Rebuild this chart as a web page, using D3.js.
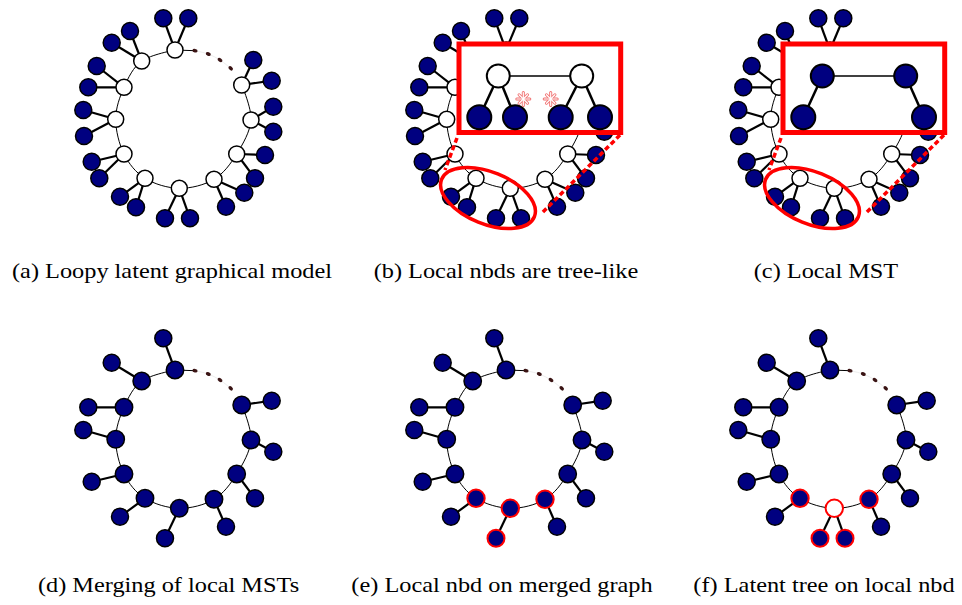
<!DOCTYPE html>
<html><head><meta charset="utf-8">
<script src="https://cdn.jsdelivr.net/npm/d3@7"></script>
<style>body{margin:0;background:#fff} .cap{font-family:"Liberation Serif","DejaVu Serif","Noto Serif",serif;}</style>
</head><body>
<svg id="chart" width="962" height="605"></svg>
<script>
// ---- data (local coordinates relative to each ring's centre) ----
const hiddenIds = ["h1","h2","h3","h4","h5","h6","h7","h8","h9","h10","h11"];
const hiddenX = [-8,-41.3,-59,-67.3,-59,-38,-3.7,31,53.7,68,58.7];
const hiddenY = [-69,-58,-31.7,0.3,35,59.3,69.3,60.3,35,1,-34];
const leafAX = [-19.7,-71.3,-94.7,-99.7,-91.3,-63,-18,43,72,90.3,88.7];
const leafAY = [-100.7,-76.3,-31.7,-9,42.7,77.7,99.3,87.7,59.3,12.7,-38.3];
const leafBX = [5.3,-53,-86.3,-99,-83.7,-47,7,61.3,82,90.3,70.3];
const leafBY = [-100.7,-88,-53,17,59.3,88.3,99.3,73.7,36,-12.3,-59];
const ellipsisX = [12,25.3,37,47.7];
const ellipsisY = [-68.3,-65,-59,-50.7];
// zoomed local tree (panel b) and local MST (panel c)
const zoomHidX = [-15.7,67.7], zoomHidY = [-43,-43];
const zoomObsX = [-34.7,1,46.7,86], zoomObsY = [-1.7,-1.7,-1.7,-1.7];
const zoomObsParent = [0,0,1,1];
const mstKeep = [0,3];
const asteriskX = [9.3,36.7], asteriskY = [-20,-20];
const captions = ["(a) Loopy latent graphical model","(b) Local nbds are tree-like","(c) Local MST",
                  "(d) Merging of local MSTs","(e) Local nbd on merged graph","(f) Latent tree on local nbd"];
const captionX = [172,506,826,168.5,502,824];
const captionY = [278,278,278,592,592,592];

const panels = [
  {cx:183, cy:119, mode:"latent"},
  {cx:514, cy:119, mode:"latent", box:"tree"},
  {cx:838, cy:119, mode:"latent", box:"mst"},
  {cx:183, cy:439, mode:"mst"},
  {cx:514, cy:439, mode:"mst", nbd:"merged"},
  {cx:838, cy:439, mode:"mst", nbd:"latent"}
];

const BLUE = "#000080", RED = "#ff0000";
const svg = d3.select("#chart");

panels.forEach((p, pi) => {
  const x = d3.scaleLinear().domain([-100,100]).range([p.cx-100, p.cx+100]);
  const y = d3.scaleLinear().domain([-100,100]).range([p.cy-100, p.cy+100]);
  const g = svg.append("g");
  const ring = hiddenIds.map((id,i)=>({id, x:x(hiddenX[i]), y:y(hiddenY[i])}));
  // ring edges
  g.append("path")
    .attr("d", d3.line().x(d=>d.x).y(d=>d.y).curve(d3.curveCardinal.tension(0))(ring))
    .attr("fill","none").attr("stroke","#000").attr("stroke-width",1);
  // ellipsis
  g.append("line").attr("x1",ring[0].x).attr("y1",ring[0].y)
    .attr("x2",x(ellipsisX[0])).attr("y2",y(ellipsisY[0]))
    .attr("stroke","#000").attr("stroke-width",1);
  g.append("path")
    .attr("d", d3.line().x((d,i)=>x(ellipsisX[i])).y((d,i)=>y(ellipsisY[i])).curve(d3.curveCardinal)(ellipsisX))
    .attr("fill","none").attr("stroke","#eee").attr("stroke-width",1);
  ellipsisX.forEach((v,i)=>{
    const cx = x(v), cy = y(ellipsisY[i]);
    const ang = Math.atan2(y(ellipsisY[i])-p.cy, x(v)-p.cx)*180/Math.PI + 90;
    g.append("ellipse").attr("cx",cx).attr("cy",cy).attr("rx",2.6).attr("ry",1.8)
      .attr("transform",`rotate(${ang},${cx},${cy})`).attr("fill","#3a1414");
  });

  const latent = p.mode === "latent";
  const nbdSet = new Set(["h6","h7","h8"]);
  // leaf edges
  ring.forEach((h,i)=>{
    const leaves = [[leafAX[i],leafAY[i]]];
    const latentHere = latent || (p.nbd==="latent" && h.id==="h7");
    if (latentHere) leaves.push([leafBX[i],leafBY[i]]);
    leaves.forEach(l=>{
      g.append("line").attr("x1",h.x).attr("y1",h.y).attr("x2",x(l[0])).attr("y2",y(l[1]))
        .attr("stroke","#000").attr("stroke-width",2.2);
    });
  });
  // leaf nodes
  ring.forEach((h,i)=>{
    const latentHere = latent || (p.nbd==="latent" && h.id==="h7");
    const leaves = [[leafAX[i],leafAY[i]]];
    if (latentHere) leaves.push([leafBX[i],leafBY[i]]);
    leaves.forEach(l=>{
      const red = h.id==="h7" && (p.nbd==="merged" || p.nbd==="latent");
      g.append("circle").attr("cx",x(l[0])).attr("cy",y(l[1])).attr("r",8.5)
        .attr("fill",BLUE).attr("stroke",red?RED:"#000").attr("stroke-width",red?2:1.5);
    });
  });
  // ring nodes
  ring.forEach(h=>{
    let fill, stroke="#000", sw=1.5, r;
    if (latent) { fill="#fff"; r=8; }
    else {
      r = 8.7; fill = BLUE;
      if (p.nbd && nbdSet.has(h.id)) { stroke=RED; sw=2; }
      if (p.nbd==="latent" && h.id==="h7") { fill="#fff"; }
    }
    g.append("circle").attr("cx",h.x).attr("cy",h.y).attr("r",r)
      .attr("fill",fill).attr("stroke",stroke).attr("stroke-width",sw);
  });

  if (p.box) {
    // zoom box
    g.append("rect").attr("x",x(-55)).attr("y",y(-75)).attr("width",x(106.7)-x(-55)).attr("height",y(13.5)-y(-75))
      .attr("fill","#fff").attr("stroke",RED).attr("stroke-width",5);
    const hid = zoomHidX.map((v,i)=>({x:x(v), y:y(zoomHidY[i])}));
    const obs = zoomObsX.map((v,i)=>({x:x(v), y:y(zoomObsY[i]), parent:zoomObsParent[i], i}));
    const shown = p.box==="tree" ? obs : obs.filter(o=>mstKeep.includes(o.i));
    g.append("line").attr("x1",hid[0].x).attr("y1",hid[0].y).attr("x2",hid[1].x).attr("y2",hid[1].y)
      .attr("stroke","#000").attr("stroke-width",1.5);
    shown.forEach(o=>{
      const h = hid[o.parent];
      g.append("line").attr("x1",h.x).attr("y1",h.y).attr("x2",o.x).attr("y2",o.y)
        .attr("stroke","#000").attr("stroke-width",2.5);
    });
    hid.forEach(h=>{
      g.append("circle").attr("cx",h.x).attr("cy",h.y).attr("r",11.5)
        .attr("fill",p.box==="tree"?"#fff":BLUE).attr("stroke","#000").attr("stroke-width",2);
    });
    shown.forEach(o=>{
      g.append("circle").attr("cx",o.x).attr("cy",o.y).attr("r",12)
        .attr("fill",BLUE).attr("stroke","#000").attr("stroke-width",2);
    });
    if (p.box==="tree") {
      asteriskX.forEach((v,i)=>{
        const ax = x(v), ay = y(asteriskY[i]);
        [[3,"#f07070"],[1.2,"#fff"]].forEach(([w,c])=>{
          [0,45,90,135].forEach(a=>{
            const r = a%90===0 ? 6.5 : 6;
            const dx = r*Math.cos(a*Math.PI/180), dy = r*Math.sin(a*Math.PI/180);
            g.append("line").attr("x1",ax-dx).attr("y1",ay-dy).attr("x2",ax+dx).attr("y2",ay+dy)
              .attr("stroke",c).attr("stroke-width",w).attr("stroke-linecap","round");
          });
        });
      });
    }
    // ellipse around local nbd
    g.append("ellipse").attr("cx",x(-26)).attr("cy",y(79)).attr("rx",50).attr("ry",26)
      .attr("transform",`rotate(22,${x(-26)},${y(79)})`)
      .attr("fill","none").attr("stroke",RED).attr("stroke-width",3.5);
    // dashed connectors
    [[-57,19,-69,51],[106,16,28,94]].forEach(s=>{
      g.append("line").attr("x1",x(s[0])).attr("y1",y(s[1])).attr("x2",x(s[2])).attr("y2",y(s[3]))
        .attr("stroke",RED).attr("stroke-width",3.5).attr("stroke-dasharray","5,3");
    });
  }
});

// captions
const capG = svg.append("g").attr("class","cap").attr("font-size",21).attr("fill","#000");
const texts = capG.selectAll("text").data(captions).join("text")
  .attr("x",(d,i)=>captionX[i]).attr("y",(d,i)=>captionY[i]).attr("text-anchor","middle").text(d=>d);
const nat = texts.nodes()[0].getComputedTextLength();
const k = 320/nat;
texts.each(function(){
  const w = this.getComputedTextLength();
  d3.select(this).attr("textLength", w*k).attr("lengthAdjust","spacingAndGlyphs");
});
</script>
</body></html>
